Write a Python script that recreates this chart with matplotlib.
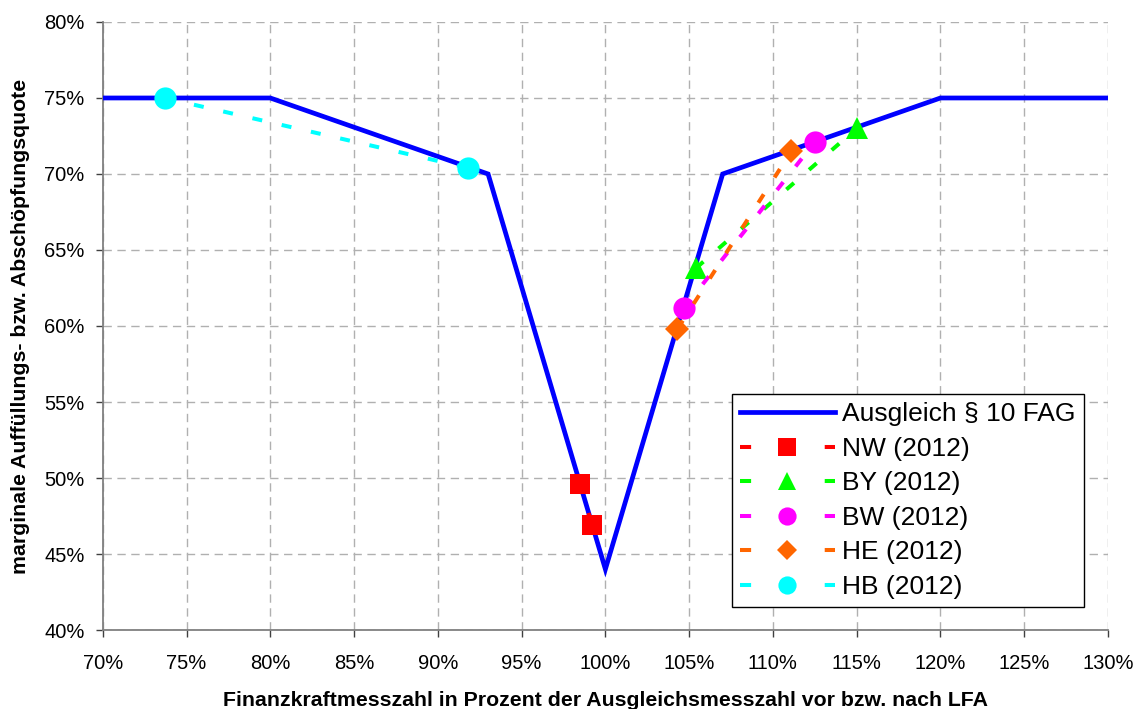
import matplotlib
matplotlib.use("Agg")
import matplotlib.pyplot as plt
from matplotlib.ticker import MultipleLocator, FuncFormatter

plt.rcParams['font.family'] = ['Liberation Sans', 'DejaVu Sans']
plt.rcParams['lines.scale_dashes'] = False

# Ausgleich § 10 FAG (Tarif)
tarif_x = [70, 80, 93, 100, 107, 120, 130]
tarif_y = [75, 75, 70, 44, 70, 75, 75]

# Länder 2012: Finanzkraft vor bzw. nach LFA und Quote
laender = ['NW (2012)', 'BY (2012)', 'BW (2012)', 'HE (2012)', 'HB (2012)']
nw_x = [98.5, 99.2]
nw_y = [49.6, 46.9]
by_x = [105.4, 115.0]
by_y = [63.8, 73.0]
bw_x = [104.7, 112.5]
bw_y = [61.2, 72.1]
he_x = [104.3, 111.1]
he_y = [59.8, 71.5]
hb_x = [73.7, 91.8]
hb_y = [75.0, 70.4]

fig = plt.figure(figsize=(11.39, 7.09), dpi=100)
ax = fig.add_axes([0.0902, 0.1114, 0.8826, 0.8576])

ax.plot(tarif_x, tarif_y, color='#0000ff', lw=3.4, solid_joinstyle='miter',
        label='Ausgleich § 10 FAG', zorder=3)

serien = [
    (nw_x, nw_y, '#ff0000', 's', 15),
    (by_x, by_y, '#00ff00', '^', 16),
    (bw_x, bw_y, '#ff00ff', 'o', 16),
    (he_x, he_y, '#ff6600', 'D', 12),
    (hb_x, hb_y, '#00ffff', 'o', 16),
]
for (x, y, farbe, m, ms), name in zip(serien, laender):
    ax.plot(x, y, color=farbe, lw=2.9, dashes=(7.2, 14.4), marker=m,
            markersize=ms, markeredgewidth=0, label=name, zorder=4)

ax.set_xlim(70, 130)
ax.set_ylim(40, 80)
ax.xaxis.set_major_locator(MultipleLocator(5))
ax.yaxis.set_major_locator(MultipleLocator(5))
ax.xaxis.set_major_formatter(FuncFormatter(lambda v, p: '%d%%' % round(v)))
ax.yaxis.set_major_formatter(FuncFormatter(lambda v, p: '%d%%' % round(v)))

ax.grid(True, color='#b0b0b0', lw=1.0, dashes=(6, 4))
ax.set_axisbelow(True)
for s in ['top', 'right']:
    ax.spines[s].set_visible(False)
for s in ['left', 'bottom']:
    ax.spines[s].set_color('#808080')
    ax.spines[s].set_linewidth(1.3)
ax.tick_params(direction='out', length=5, width=1, color='#404040',
               labelsize=14.5)
ax.tick_params(axis='x', pad=12)
ax.tick_params(axis='y', pad=8)

ax.set_xlabel('Finanzkraftmesszahl in Prozent der Ausgleichsmesszahl vor bzw. nach LFA',
              fontsize=15.3, fontweight='bold', labelpad=13)
ax.set_ylabel('marginale Auffüllungs- bzw. Abschöpfungsquote',
              fontsize=15.3, fontweight='bold', labelpad=10)

leg = ax.legend(loc='lower right', bbox_to_anchor=(0.976, 0.038), borderaxespad=0,
                fontsize=19, handlelength=3.6, handletextpad=0.3, labelspacing=0.4,
                borderpad=0.3, markerscale=0.82, fancybox=False, framealpha=1,
                edgecolor='#000000')
leg.get_frame().set_linewidth(1.0)
# Legendensymbol: Strich - Marker - Strich
for l in leg.get_lines()[1:]:
    l.set_dashes([8.0, 53.0, 8.0, 60.0])

fig.savefig('out.png', dpi=100)
